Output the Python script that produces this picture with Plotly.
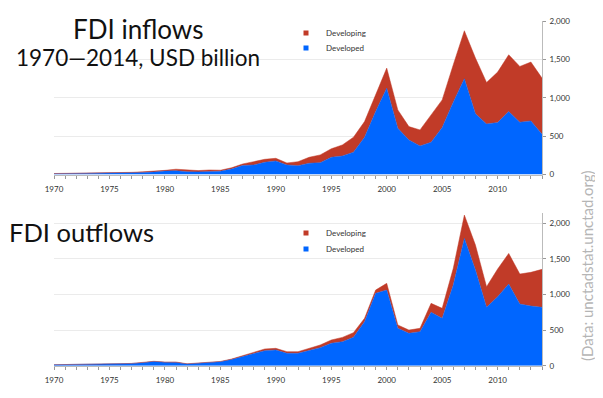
import plotly.graph_objects as go
from plotly.subplots import make_subplots

years = list(range(1970, 2015))

inflows_total = [13, 14, 15, 21, 25, 27, 22, 28, 35, 41, 54, 69, 59, 51, 59, 56, 87, 137,
                 167, 198, 211, 150, 167, 224, 255, 335, 385, 485, 690, 1040, 1386, 842,
                 624, 581, 777, 972, 1430, 1873, 1517, 1199, 1334, 1560, 1408, 1465, 1256]
inflows_developed = [10, 11, 12, 17, 20, 18, 16, 20, 26, 32, 46, 48, 35, 34, 38, 42, 72, 117,
                     124, 159, 176, 124, 115, 146, 154, 224, 241, 290, 485, 820, 1125, 603,
                     450, 372, 420, 611, 942, 1247, 790, 659, 676, 820, 681, 698, 525]

outflows_total = [14, 15, 20, 27, 25, 28, 28, 32, 42, 62, 51, 52, 27, 37, 49, 60, 93, 139,
                  183, 235, 244, 197, 197, 244, 291, 361, 398, 464, 666, 1063, 1157, 572,
                  501, 525, 876, 806, 1368, 2117, 1695, 1110, 1358, 1578, 1288, 1312, 1354]
outflows_developed = [14, 15, 19, 26, 24, 27, 27, 31, 40, 58, 47, 46, 23, 34, 45, 55, 86, 130,
                      164, 211, 220, 174, 174, 211, 253, 315, 337, 399, 618, 1017, 1063, 525,
                      455, 478, 750, 666, 1133, 1789, 1344, 820, 969, 1147, 867, 838, 820]

series_names = ["Developing", "Developed"]
x_tickvals = [1970, 1975, 1980, 1985, 1990, 1995, 2000, 2005, 2010]
y_tickvals = [0, 500, 1000, 1500, 2000]
y_ticktext = ["0", "500", "1,000", "1,500", "2,000"]

BLUE = "#0066ff"
RED = "#c13b28"
FONT = "Lato"
OFF = 8  # the page places the figure 8px from the window corner
W, H = 603 - OFF, 398 - OFF

def px(X):
    return (X - OFF) / W

def py(Y):
    return 1 - (Y - OFF) / H

fig = make_subplots(rows=2, cols=1)

legend_ids = {1: ["legend", "legend2"], 2: ["legend3", "legend4"]}
legend_y = {1: [33, 48], 2: [233, 249]}

def add_chart(row, developed, total):
    fig.add_trace(go.Scatter(x=years, y=developed, mode="lines", fill="tozeroy",
                             line=dict(color=BLUE, width=0.5), fillcolor=BLUE,
                             showlegend=False, hoverinfo="skip"), row=row, col=1)
    fig.add_trace(go.Scatter(x=years, y=total, mode="lines", fill="tonexty",
                             line=dict(color=RED, width=0.5), fillcolor=RED,
                             showlegend=False, hoverinfo="skip"), row=row, col=1)
    for name, color, lid in zip(series_names, [RED, BLUE], legend_ids[row]):
        fig.add_trace(go.Scatter(x=[None], y=[None], mode="markers", name=name,
                                 marker=dict(symbol="square", size=5, color=color),
                                 legend=lid, showlegend=True), row=row, col=1)

add_chart(1, inflows_developed, inflows_total)
add_chart(2, outflows_developed, outflows_total)

legends = {}
for row in (1, 2):
    for lid, yy in zip(legend_ids[row], legend_y[row]):
        legends[lid] = dict(x=px(286), y=py(yy), xanchor="left", yanchor="middle",
                            font=dict(size=8, family=FONT, color="#333"),
                            bgcolor="rgba(0,0,0,0)", itemwidth=30, traceorder="normal")

fig.update_layout(
    width=W, height=H, margin=dict(l=0, r=0, t=0, b=0, autoexpand=False),
    plot_bgcolor="white", paper_bgcolor="white",
    font=dict(family=FONT, color="#333333"),
    **legends,
)

axis_common_x = dict(range=[1970, 2014], tickvals=x_tickvals, ticks="outside", ticklen=3,
                     tickcolor="#999", showgrid=False, showline=True, linecolor="#bbb",
                     linewidth=1, tickfont=dict(size=8, family=FONT, color="#333"),
                     minor=dict(dtick=1, ticks="outside", ticklen=3, tickcolor="#999"),
                     zeroline=False, automargin=False, ticklabelstandoff=4)
fig.update_xaxes(**axis_common_x, domain=[px(54), px(542)])

axis_common_y = dict(side="right", tickvals=y_tickvals, ticktext=y_ticktext,
                     ticks="outside", ticklen=3, tickcolor="#999",
                     showgrid=True, gridcolor="#ebebeb", gridwidth=1,
                     showline=True, linecolor="#bbb", linewidth=1,
                     tickfont=dict(size=8, family=FONT, color="#333"), zeroline=False,
                     automargin=False, ticklabelstandoff=2)
fig.update_yaxes(**axis_common_y)
fig.update_yaxes(range=[0, 2000], domain=[py(174.5), py(21)], row=1, col=1)
fig.update_yaxes(range=[0, 2150], domain=[py(365.7), py(212.7)], row=2, col=1)

fig.add_annotation(text="FDI inflows", xref="paper", yref="paper", x=px(138), y=py(29),
                   showarrow=False, font=dict(size=26, family=FONT, color="#111"),
                   xanchor="center", yanchor="middle")
fig.add_annotation(text="1970\u20142014, USD billion", xref="paper", yref="paper",
                   x=px(138), y=py(58), showarrow=False,
                   font=dict(size=22.5, family=FONT, color="#111"),
                   xanchor="center", yanchor="middle")
fig.add_annotation(text="FDI outflows", xref="paper", yref="paper", x=px(8), y=py(232),
                   showarrow=False, font=dict(size=25.5, family=FONT, color="#111"),
                   xanchor="left", yanchor="middle", borderpad=0)
fig.add_annotation(text="(Data: unctadstat.unctad.org)", xref="paper", yref="paper",
                   x=px(587), y=py(266), showarrow=False, textangle=-90,
                   font=dict(size=15, family=FONT, color="#b5b5b5"),
                   xanchor="center", yanchor="middle")

fig.write_html("out.html")
